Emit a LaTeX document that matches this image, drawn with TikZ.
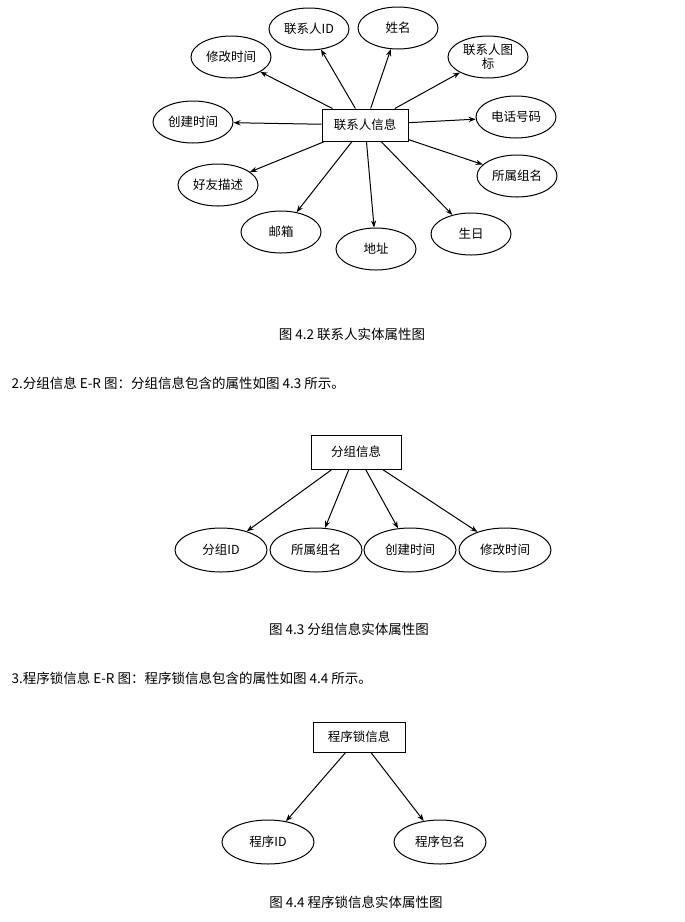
\documentclass[tikz,border=0pt]{standalone}
\usepackage{fontspec}
\setmainfont{Noto Sans CJK SC}
\usetikzlibrary{arrows.meta,shapes.geometric}
\tikzset{>={Stealth[length=7pt]}}
\tikzset{
    entity/.style={rectangle,draw,line width=1pt,minimum width=86,minimum height=32,inner sep=2pt,font=\fontsize{12.5}{14}\selectfont},
    attr/.style={ellipse,draw,line width=1pt,minimum width=80,minimum height=42,inner sep=0pt,font=\fontsize{12.5}{14}\selectfont,align=center},
    wattr/.style={attr,minimum width=92,minimum height=44},
    directed/.style={arrows={->},line width=1pt},
    caption/.style={font=\fontsize{13.5}{15}\selectfont},
    bodytext/.style={anchor=west,font=\fontsize{13.5}{16}\selectfont},
}
\begin{document}
\begin{tikzpicture}[x=1pt,y=-1pt]
		\useasboundingbox (0,0) rectangle (685,922);
		% figure 4.2
		\node[entity] (c) at (365,125) {联系人信息};
		\node[attr] (mt) at (231,57) {修改时间};
		\node[attr] (id) at (309,29) {联系人ID};
		\node[attr] (nm) at (398,28) {姓名};
		\node[attr] (ic) at (488,57) {联系人图\\标};
		\node[attr] (ph) at (516,117) {电话号码};
		\node[attr] (gr) at (517,176) {所属组名};
		\node[attr] (bd) at (471,234) {生日};
		\node[attr] (ad) at (376,249) {地址};
		\node[attr] (em) at (281,232) {邮箱};
		\node[attr] (fd) at (218,185) {好友描述};
		\node[attr] (ct) at (193,122) {创建时间};
		\foreach \a in {mt,id,nm,ic,ph,gr,bd,ad,em,fd,ct}
			\draw[directed] (c) -- (\a);
		\node[caption] (cap1) at (352,334) {图 4.2 联系人实体属性图};
		\node[bodytext] (t2) at (8,383) {2.分组信息 E-R 图：分组信息包含的属性如图 4.3 所示。};
		% figure 4.3
		\node[entity,minimum width=90,minimum height=34] (g) at (356,452) {分组信息};
		\node[wattr] (gid) at (221,550) {分组ID};
		\node[wattr] (gnm) at (316,550) {所属组名};
		\node[wattr] (gct) at (410,550) {创建时间};
		\node[wattr] (gmt) at (505,550) {修改时间};
		\foreach \a in {gid,gnm,gct,gmt}
			\draw[directed] (g) -- (\a);
		\node[caption] (cap2) at (349,629) {图 4.3 分组信息实体属性图};
		\node[bodytext] (t3) at (8,678) {3.程序锁信息 E-R 图：程序锁信息包含的属性如图 4.4 所示。};
		% figure 4.4
		\node[entity,minimum width=92,minimum height=30] (p) at (359,737) {程序锁信息};
		\node[wattr] (pid) at (268,842) {程序ID};
		\node[wattr] (pkg) at (440,842) {程序包名};
		\draw[directed] (p) -- (pid);
		\draw[directed] (p) -- (pkg);
		\node[caption] (cap3) at (356,902) {图 4.4 程序锁信息实体属性图};
\end{tikzpicture}
\end{document}
